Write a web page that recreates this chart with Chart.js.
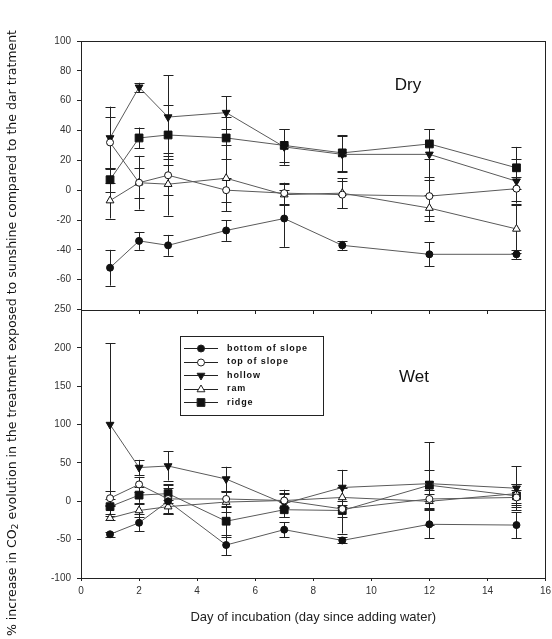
<!DOCTYPE html>
<html>
<head>
<meta charset="utf-8">
<script src="https://cdn.jsdelivr.net/npm/chart.js@4.4.1/dist/chart.umd.min.js"></script>
<style>
  html, body { margin: 0; padding: 0; background: #fff; }
  canvas { display: block; }
</style>
</head>
<body>
<canvas id="chart" width="552" height="639"></canvas>
<script>
// days of incubation
const days = [1, 2, 3, 5, 7, 9, 12, 15];
const siteNames = ['bottom of slope', 'top of slope', 'hollow', 'ram', 'ridge'];
const xTicks = [0, 2, 4, 6, 8, 10, 12, 14, 16];
const dryTicks = [100, 80, 60, 40, 20, 0, -20, -40, -60, -80];
const wetTicks = [250, 200, 150, 100, 50, 0, -50, -100];

// Dry panel: mean and +/- error
const dryBottom = [-52, -34, -37, -27, -19, -37, -43, -43];
const dryBottomErr = [12, 6, 7, 7, 19, 3, 8, 3];
const dryTop = [32, 5, 10, 0, -2, -3, -4, 1];
const dryTopErr = [17, 10, 13, 8, 7, 9, 13, 8];
const dryHollow = [35, 69, 49, 52, 29, 24, 24, 6];
const dryHollowErr = [21, 3, 28, 11, 12, 12, 17, 15];
const dryRam = [-7, 5, 4, 8, -3, -2, -12, -26];
const dryRamErr = [12, 18, 21, 22, 7, 10, 9, 16];
const dryRidge = [7, 35, 37, 35, 30, 25, 31, 15];
const dryRidgeErr = [8, 7, 20, 14, 11, 12, 10, 14];

// Wet panel
const wetBottom = [-43, -28, 0, -57, -37, -51, -30, -31];
const wetBottomErr = [3, 11, 17, 13, 10, 4, 18, 17];
const wetTop = [4, 22, 3, 3, 1, -10, 3, 5];
const wetTopErr = [9, 10, 18, 10, 8, 10, 12, 10];
const wetHollow = [100, 44, 46, 29, -3, 18, 23, 17];
const wetHollowErr = [106, 10, 19, 16, 18, 23, 54, 29];
const wetRam = [-22, -12, -7, -1, 1, 5, 0, 10];
const wetRamErr = [3, 8, 9, 13, 10, 12, 10, 12];
const wetRidge = [-7, 8, 10, -26, -11, -12, 21, 7];
const wetRidgeErr = [10, 10, 12, 20, 10, 30, 20, 15];

const markers = [
  { pointStyle: 'circle', radius: 3.5, fill: '#111', rotation: 0 },
  { pointStyle: 'circle', radius: 3.5, fill: '#fff', rotation: 0 },
  { pointStyle: 'triangle', radius: 4.5, fill: '#111', rotation: 180 },
  { pointStyle: 'triangle', radius: 4.5, fill: '#fff', rotation: 0 },
  { pointStyle: 'rect', radius: 5.5, fill: '#111', rotation: 0 }
];

const drySeries = [dryBottom, dryTop, dryHollow, dryRam, dryRidge];
const dryErrs = [dryBottomErr, dryTopErr, dryHollowErr, dryRamErr, dryRidgeErr];
const wetSeries = [wetBottom, wetTop, wetHollow, wetRam, wetRidge];
const wetErrs = [wetBottomErr, wetTopErr, wetHollowErr, wetRamErr, wetRidgeErr];

function makeSet(name, vals, errs, k, axis) {
  const m = markers[k];
  return {
    label: name,
    data: days.map((d, i) => ({ x: d, y: vals[i] })),
    errors: errs,
    yAxisID: axis,
    borderColor: '#5a5a5a',
    borderWidth: 1,
    pointStyle: m.pointStyle,
    pointRadius: m.radius,
    pointRotation: m.rotation,
    pointBackgroundColor: m.fill,
    pointBorderColor: '#111',
    pointBorderWidth: 1,
    tension: 0
  };
}

const datasets = [];
siteNames.forEach((n, k) => datasets.push(makeSet(n, drySeries[k], dryErrs[k], k, 'yDry')));
siteNames.forEach((n, k) => datasets.push(makeSet(n, wetSeries[k], wetErrs[k], k, 'yWet')));

const errorBars = {
  id: 'errorBars',
  beforeDatasetsDraw(chart) {
    const ctx = chart.ctx;
    const xs = chart.scales.x;
    ctx.save();
    ctx.strokeStyle = '#222';
    ctx.lineWidth = 1;
    chart.data.datasets.forEach(ds => {
      const ys = chart.scales[ds.yAxisID];
      ds.data.forEach((p, i) => {
        const e = ds.errors[i];
        const px = Math.round(xs.getPixelForValue(p.x)) + 0.5;
        const top = ys.getPixelForValue(p.y + e);
        const bot = ys.getPixelForValue(p.y - e);
        const t = Math.max(top, ys.top), b = Math.min(bot, ys.bottom);
        ctx.beginPath();
        ctx.moveTo(px, t); ctx.lineTo(px, b);
        if (top >= ys.top) { ctx.moveTo(px - 5, Math.round(top) + 0.5); ctx.lineTo(px + 5, Math.round(top) + 0.5); }
        if (bot <= ys.bottom) { ctx.moveTo(px - 5, Math.round(bot) + 0.5); ctx.lineTo(px + 5, Math.round(bot) + 0.5); }
        ctx.stroke();
      });
    });
    ctx.restore();
  }
};

const decorations = {
  id: 'decorations',
  afterDraw(chart) {
    const ctx = chart.ctx;
    const a = chart.chartArea;
    const xs = chart.scales.x, yd = chart.scales.yDry, yw = chart.scales.yWet;
    ctx.save();
    ctx.strokeStyle = '#222';
    ctx.lineWidth = 1;
    const L = Math.round(a.left) + 0.5, R = Math.round(a.right) - 0.5;
    // frame of dry panel, right side of wet panel
    ctx.strokeRect(L, Math.round(yd.top) + 0.5, R - L, Math.round(yd.bottom) - Math.round(yd.top));
    ctx.beginPath();
    ctx.moveTo(R, Math.round(yw.top)); ctx.lineTo(R, Math.round(yw.bottom));
    // ticks below the dry panel
    xTicks.slice(1, -1).forEach(v => {
      const px = Math.round(xs.getPixelForValue(v)) + 0.5;
      ctx.moveTo(px, Math.round(yd.bottom)); ctx.lineTo(px, Math.round(yd.bottom) + 4);
    });
    ctx.stroke();

    // panel labels
    ctx.fillStyle = '#111';
    ctx.font = '17px "Liberation Sans", Arial, sans-serif';
    ctx.textAlign = 'center';
    ctx.textBaseline = 'middle';
    ctx.fillText('Dry', 408, 85);
    ctx.fillText('Wet', 414, 377);

    // legend
    ctx.strokeRect(180.5, 336.5, 143, 79);
    ctx.font = 'bold 9px "Liberation Sans", Arial, sans-serif';
    ctx.textAlign = 'left';
    ctx.letterSpacing = '0.9px';
    siteNames.forEach((n, k) => {
      const y = 348 + k * 13.5;
      ctx.beginPath();
      ctx.moveTo(184, Math.round(y) + 0.5); ctx.lineTo(218, Math.round(y) + 0.5);
      ctx.stroke();
      const m = markers[k];
      ctx.fillStyle = m.fill;
      Chart.helpers.drawPoint(ctx, {
        pointStyle: m.pointStyle, radius: m.radius, rotation: m.rotation, borderWidth: 1
      }, 201, Math.round(y) + 0.5);
      ctx.fillStyle = '#111';
      ctx.fillText(n, 227, y + 0.5);
    });
    ctx.letterSpacing = '0px';

    // vertical axis title
    ctx.save();
    ctx.translate(13, 333);
    ctx.rotate(-Math.PI / 2);
    const big = '12px "Liberation Sans Narrow", "DejaVu Sans Condensed", sans-serif';
    const small = '9px "Liberation Sans Narrow", "DejaVu Sans Condensed", sans-serif';
    const p1 = '% increase in CO', p2 = '2', p3 = ' evolution in the treatment exposed to sunshine compared to the dar tratment';
    ctx.font = big;
    const w1 = ctx.measureText(p1).width, w3 = ctx.measureText(p3).width;
    ctx.font = small;
    const w2 = ctx.measureText(p2).width;
    const total = w1 + w2 + w3;
    const s = 606 / total;
    ctx.scale(s, 1);
    ctx.textAlign = 'left';
    ctx.textBaseline = 'middle';
    let x0 = -total / 2;
    ctx.font = big; ctx.fillText(p1, x0, 0);
    ctx.font = small; ctx.fillText(p2, x0 + w1, 3);
    ctx.font = big; ctx.fillText(p3, x0 + w1 + w2, 0);
    ctx.restore();
    ctx.restore();
  }
};

const tickFont = { family: '"Liberation Sans", Arial, sans-serif', size: 10 };

new Chart(document.getElementById('chart'), {
  type: 'line',
  data: { datasets },
  plugins: [errorBars, decorations],
  options: {
    responsive: false,
    animation: false,
    devicePixelRatio: 1,
    layout: { padding: { top: 41, right: 0, left: 0, bottom: 0 } },
    plugins: { legend: { display: false }, tooltip: { enabled: false } },
    scales: {
      x: {
        type: 'linear', min: 0, max: 16,
        afterBuildTicks: s => { s.ticks = xTicks.map(v => ({ value: v })); },
        ticks: { font: tickFont, color: '#333', padding: 4, maxRotation: 0 },
        grid: { drawOnChartArea: false, tickLength: 3, color: '#222' },
        border: { color: '#222' },
        title: { display: true, text: 'Day of incubation (day since adding water)',
                 font: { family: '"Liberation Sans", Arial, sans-serif', size: 13 }, color: '#222',
                 padding: { top: 8, bottom: 14 } },
        afterFit: s => { s.height = 61; s.paddingRight = 6; }
      },
      yWet: {
        type: 'linear', position: 'left', stack: 'panels', stackWeight: 1,
        min: -100, max: 250,
        afterBuildTicks: s => { s.ticks = wetTicks.map(v => ({ value: v })); },
        ticks: { font: tickFont, color: '#333', padding: 6 },
        grid: { drawOnChartArea: false, tickLength: 4, color: '#222' },
        border: { color: '#222' },
        afterFit: s => { s.width = 81; }
      },
      yDry: {
        type: 'linear', position: 'left', stack: 'panels', stackWeight: 1,
        min: -80, max: 100,
        afterBuildTicks: s => { s.ticks = dryTicks.map(v => ({ value: v })); },
        ticks: { font: tickFont, color: '#333', padding: 6,
                 callback: v => (v === -80 ? '' : v) },
        grid: { drawOnChartArea: false, tickLength: 4, color: '#222' },
        border: { color: '#222' },
        afterFit: s => { s.width = 81; }
      }
    }
  }
});
</script>
</body>
</html>
